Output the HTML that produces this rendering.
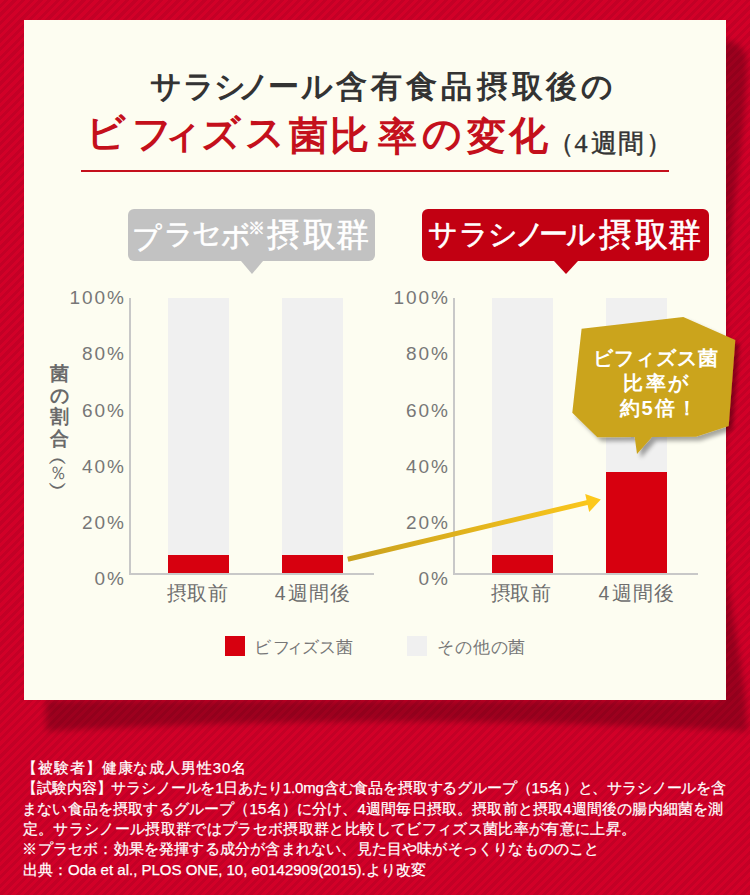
<!DOCTYPE html>
<html lang="ja">
<head>
<meta charset="utf-8">
<style>
*{margin:0;padding:0;box-sizing:border-box}
html,body{width:750px;height:895px;overflow:hidden}
body{position:relative;font-family:"Liberation Sans",sans-serif;
background:repeating-linear-gradient(135deg,#d20028 0px,#d20028 3px,#c30026 3px,#c30026 6.1px);}
.abs{position:absolute;white-space:nowrap}
#card{position:absolute;left:24px;top:20px;width:702px;height:680px;background:#fdfdf1}
.t1{font-family:"Liberation Serif",serif;font-weight:bold;color:#333;font-size:32px;line-height:32px}
.t2{font-family:"Liberation Serif",serif;font-weight:bold;color:#c4101c;font-size:42px;line-height:42px}
.t3{font-family:"Liberation Serif",serif;font-weight:normal;color:#333;font-size:26px;line-height:26px;-webkit-text-stroke:0.45px #333}
.gh,.rh{color:#fff;font-size:31px;line-height:51px;height:51px;-webkit-text-stroke:0.6px #fff}
.t1 span,.t2 span,.t3 span,.gh span,.rh span,.xl span,.lg span{position:absolute;top:0;width:60px;text-align:center}
.rule{position:absolute;left:81px;top:170px;width:588px;height:2px;background:#c4101c}
.hbox{position:absolute;top:209px;height:52px;border-radius:6px;color:#fff;font-size:31px;line-height:51px}
.hbox:after{content:"";position:absolute;top:52px;border-style:solid;border-width:13.4px 11.2px 0 11.2px}
.g{left:128px;width:247px;background:#c2c2c2}
.g:after{left:112.8px;border-color:#c2c2c2 transparent transparent transparent}
.r{left:422px;width:287px;background:#c20012}
.r:after{left:132px;border-width:13.4px 12px 0 12px;border-color:#c20012 transparent transparent transparent}
.axis{position:absolute;background:#c8c8c8}
.ylab{position:absolute;width:62px;text-align:right;font-size:19px;line-height:20px;color:#777;letter-spacing:2px}
.bar{position:absolute;background:#f0f0f0}
.red{position:absolute;background:#d7000f}
.xl{position:absolute;font-size:19.5px;line-height:20px;color:#6e6e6e;white-space:nowrap}
.lg{position:absolute;font-size:16.5px;line-height:17px;color:#777;white-space:nowrap}
.bt{color:#fff;font-weight:bold;font-size:20px;line-height:25px}
.fn{position:absolute;left:24px;font-size:15px;line-height:15px;color:#fff;white-space:nowrap;-webkit-text-stroke:0.25px #fff}
</style>
</head>
<body>
<svg class="abs" style="left:0;top:0" width="750" height="895"><defs><filter id="cs" x="-5%" y="-5%" width="110%" height="110%"><feGaussianBlur stdDeviation="3"/></filter></defs>
<path filter="url(#cs)" fill="rgba(0,0,0,0.25)" d="M720,40 C735,40 747,48 747,62 C747,120 732,200 726,300 L726,560 C731,620 747,680 747,731 Q390,712 46,731 L46,700 L720,700 Z"/></svg>
<div id="card"></div>

<div class="abs t1" style="left:0;top:71px;font-size:31px;line-height:31px"><span style="left:135.5px">サ</span><span style="left:168.8px">ラ</span><span style="left:199.8px">シ</span><span style="left:224.3px">ノ</span><span style="left:253.3px">ー</span><span style="left:287.4px">ル</span><span style="left:321.8px">含</span><span style="left:356.6px">有</span><span style="left:391.0px">食</span><span style="left:426.2px">品</span><span style="left:462.5px">摂</span><span style="left:497.6px">取</span><span style="left:531.6px">後</span><span style="left:567.2px">の</span></div>
<div class="abs t2" style="left:0;top:117.5px;font-size:39px;line-height:39px"><span style="left:76.2px;top:-4.1px">ビ</span><span style="left:121.8px;top:-4.0px">フ</span><span style="left:152.2px;top:-3.0px">ィ</span><span style="left:191.3px;top:-3.3px">ズ</span><span style="left:235.0px;top:-4.1px">ス</span><span style="left:278.8px;top:-1.7px">菌</span><span style="left:319.4px;top:-1.7px">比</span><span style="left:367.0px;top:-0.7px">率</span><span style="left:411.8px;top:-3.5px">の</span><span style="left:456.3px;top:-0.7px">変</span><span style="left:498.8px;top:-1.7px">化</span></div>
<div class="abs t3" style="left:0;top:131px"><span style="left:531.3px">（</span><span style="left:551.0px">4</span><span style="left:574.3px">週</span><span style="left:601.2px">間</span><span style="left:628.7px">）</span></div>
<div class="rule"></div>

<div class="hbox g"></div>
<div class="abs gh" style="left:0;top:209px"><span style="left:116.8px;font-size:29px;top:3.7px">プ</span><span style="left:149.1px;font-size:29px;top:-0.3px">ラ</span><span style="left:176.7px;font-size:29px;top:-1.3px">セ</span><span style="left:205.6px;font-size:29px;top:1.7px">ボ</span><span style="left:226.2px;font-size:17px;top:-6.5px">※</span><span style="left:253.6px;font-size:33px;top:0.0px">摂</span><span style="left:289.0px;font-size:33px;top:0.0px">取</span><span style="left:322.4px;font-size:33px;top:0.0px">群</span></div>
<div class="hbox r"></div>
<div class="abs rh" style="left:0;top:209px"><span style="left:412.7px;font-size:29px;top:-0.3px">サ</span><span style="left:443.5px;font-size:29px;top:-0.3px">ラ</span><span style="left:472.5px;font-size:29px;top:-0.3px">シ</span><span style="left:499.5px;font-size:29px;top:-0.3px">ノ</span><span style="left:523.0px;font-size:29px;top:-0.3px">ー</span><span style="left:550.5px;font-size:29px;top:-0.3px">ル</span><span style="left:585.0px;font-size:33px;top:0.0px">摂</span><span style="left:621.0px;font-size:33px;top:0.0px">取</span><span style="left:654.5px;font-size:33px;top:0.0px">群</span></div>

<!-- left chart -->
<div class="axis" style="left:129px;top:298px;width:2px;height:277px"></div>
<div class="axis" style="left:129px;top:573px;width:245px;height:2px"></div>
<div class="ylab" style="left:64px;top:288.0px">100%</div>
<div class="ylab" style="left:64px;top:344.3px">80%</div>
<div class="ylab" style="left:64px;top:400.8px">60%</div>
<div class="ylab" style="left:64px;top:456.9px">40%</div>
<div class="ylab" style="left:64px;top:513.0px">20%</div>
<div class="ylab" style="left:64px;top:568.9px">0%</div>
<div class="bar" style="left:168px;top:298px;width:61px;height:275px"></div>
<div class="red" style="left:168px;top:555px;width:61px;height:18px"></div>
<div class="bar" style="left:282px;top:298px;width:61px;height:275px"></div>
<div class="red" style="left:282px;top:555px;width:61px;height:18px"></div>
<div class="abs xl xl1" style="left:0;top:580px"><span style="left:147.2px;top:3.0px">摂</span><span style="left:166.5px;top:3.0px">取</span><span style="left:187.6px;top:3.0px">前</span></div>
<div class="abs xl xl2" style="left:0;top:580px"><span style="left:250.2px;top:3.0px">4</span><span style="left:268.0px;top:3.0px">週</span><span style="left:289.3px;top:3.0px">間</span><span style="left:310.0px;top:3.0px">後</span></div>

<!-- right chart -->
<div class="axis" style="left:453px;top:298px;width:2px;height:277px"></div>
<div class="axis" style="left:453px;top:573px;width:245px;height:2px"></div>
<div class="ylab" style="left:388px;top:288.0px">100%</div>
<div class="ylab" style="left:388px;top:344.3px">80%</div>
<div class="ylab" style="left:388px;top:400.8px">60%</div>
<div class="ylab" style="left:388px;top:456.9px">40%</div>
<div class="ylab" style="left:388px;top:513.0px">20%</div>
<div class="ylab" style="left:388px;top:568.9px">0%</div>
<div class="bar" style="left:492px;top:298px;width:61px;height:275px"></div>
<div class="red" style="left:492px;top:555px;width:61px;height:18px"></div>
<div class="bar" style="left:606px;top:298px;width:61px;height:275px"></div>
<div class="red" style="left:606px;top:472px;width:61px;height:101px"></div>
<div class="abs xl xr1" style="left:0;top:580px"><span style="left:471.0px;top:3.0px">摂</span><span style="left:490.3px;top:3.0px">取</span><span style="left:511.4px;top:3.0px">前</span></div>
<div class="abs xl xr2" style="left:0;top:580px"><span style="left:574.0px;top:3.0px">4</span><span style="left:591.8px;top:3.0px">週</span><span style="left:613.1px;top:3.0px">間</span><span style="left:633.8px;top:3.0px">後</span></div>

<!-- y axis title -->
<div class="abs" style="left:49px;top:363px;width:21px;font-size:19px;line-height:21.7px;color:#6a6a6a;font-weight:bold;white-space:normal;text-align:center">菌<br>の<br>割<br>合</div>
<div class="abs" style="left:47px;top:453.2px;width:20px;font-size:18px;line-height:18px;color:#6a6a6a;font-weight:bold;writing-mode:vertical-rl;text-orientation:upright">（<span style="font-weight:normal">％</span>）</div>

<!-- arrow -->
<svg class="abs" style="left:0;top:0" width="750" height="895" viewBox="0 0 750 895">
<defs>
<linearGradient id="ag" x1="347" y1="559" x2="601" y2="500" gradientUnits="userSpaceOnUse">
<stop offset="0" stop-color="#c9a01e"/><stop offset="1" stop-color="#fcc81c"/></linearGradient>
<filter id="sh" x="-20%" y="-20%" width="140%" height="140%"><feGaussianBlur in="SourceAlpha" stdDeviation="2"/><feOffset dx="4" dy="4"/><feComponentTransfer><feFuncA type="linear" slope="0.35"/></feComponentTransfer><feMerge><feMergeNode/><feMergeNode in="SourceGraphic"/></feMerge></filter>
</defs>
<line x1="347.8" y1="559.2" x2="589" y2="502.1" stroke="url(#ag)" stroke-width="5"/>
<polygon points="600.8,499.6 585.2,494 589.2,512" fill="#fcc81c"/>
<polygon filter="url(#sh)" fill="#cba41f" points="581.6,328.7 683.3,317.1 735.3,340 728.7,426 696,436.7 652,437 637,454 634.7,437 597.3,437.3 572.3,412.7"/>
</svg>
<div class="abs bt" style="left:592.6px;top:346px;letter-spacing:1px">ビフィズス菌</div>
<div class="abs bt" style="left:623.2px;top:371px;letter-spacing:2.6px">比率が</div>
<div class="abs bt" style="left:619.5px;top:396px;letter-spacing:2px">約5倍！</div>

<!-- legend -->
<div class="abs" style="left:225px;top:636px;width:20px;height:20px;background:#d7000f"></div>
<div class="abs lg lg1" style="left:0;top:630px"><span style="left:232.7px;top:9.3px">ビ</span><span style="left:251.0px;top:9.3px">フ</span><span style="left:264.8px;top:9.3px">ィ</span><span style="left:280.1px;top:9.3px">ズ</span><span style="left:297.2px;top:9.3px">ス</span><span style="left:314.8px;top:9.3px">菌</span></div>
<div class="abs" style="left:407px;top:636px;width:20px;height:20px;background:#f0f0f0"></div>
<div class="abs lg lg2" style="left:0;top:630px"><span style="left:415.3px;top:8.5px">そ</span><span style="left:433.6px;top:8.5px">の</span><span style="left:451.2px;top:8.5px">他</span><span style="left:469.5px;top:8.5px">の</span><span style="left:486.0px;top:8.5px">菌</span></div>

<!-- footnotes -->
<div class="fn" style="top:760px;left:22.3px;letter-spacing:0.87px">【被験者】健康な成人男性30名</div>
<div class="fn" style="top:780px;left:22.3px;letter-spacing:-0.158px">【試験内容】サラシノールを1日あたり1.0mg含む食品を摂取するグループ（15名）と、サラシノールを含</div>
<div class="fn" style="top:801px;left:22.1px;letter-spacing:0.164px">まない食品を摂取するグループ（15名）に分け、4週間毎日摂取。摂取前と摂取4週間後の腸内細菌を測</div>
<div class="fn" style="top:821px;left:22.6px;letter-spacing:0.344px">定。サラシノール摂取群ではプラセボ摂取群と比較してビフィズス菌比率が有意に上昇。</div>
<div class="fn" style="top:841px;left:22.4px;letter-spacing:0.189px">※プラセボ：効果を発揮する成分が含まれない、見た目や味がそっくりなもののこと</div>
<div class="fn" style="top:862px;left:23.1px">出典：Oda et al., PLOS ONE, 10, e0142909(2015).より改変</div>
</body>
</html>
